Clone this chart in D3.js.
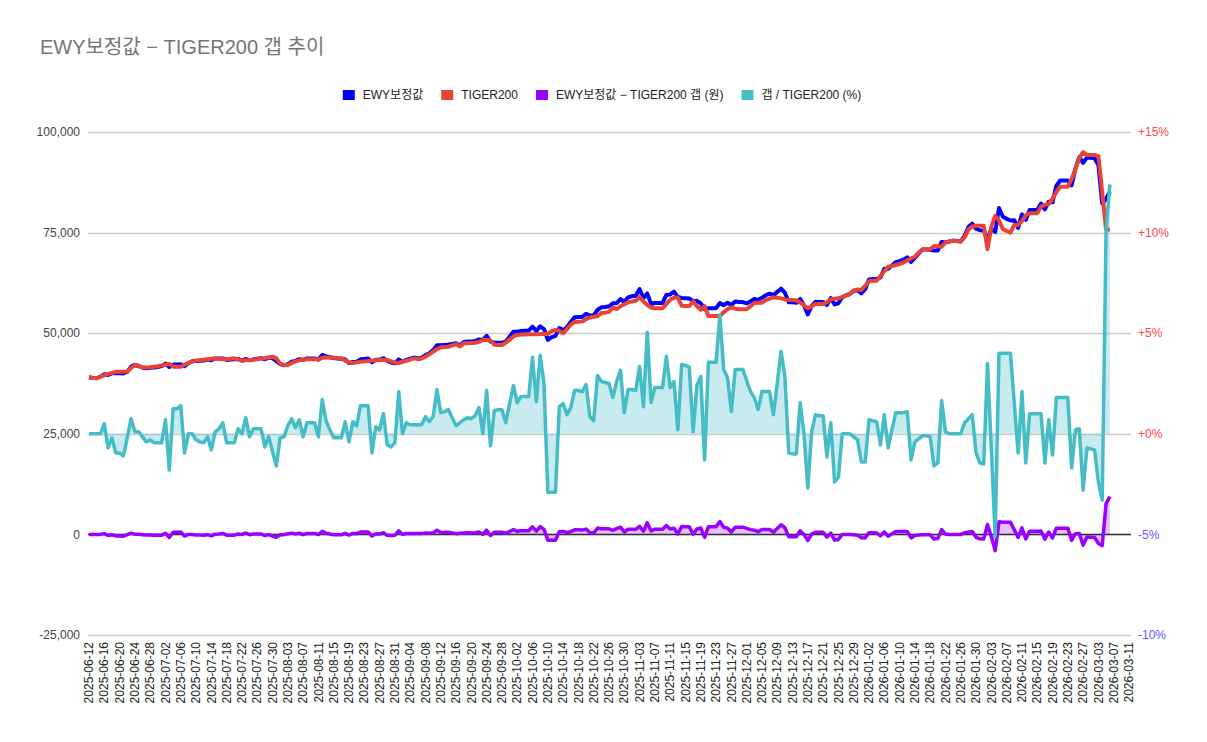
<!DOCTYPE html>
<html>
<head>
<meta charset="utf-8">
<script src="https://cdn.jsdelivr.net/npm/d3@7"></script>
<style>
  body { margin: 0; background: #fff; }
  svg text { font-family: Arial, "Liberation Sans", "Noto Sans CJK KR", sans-serif; }
</style>
</head>
<body>
<svg id="chart" width="1207" height="742"></svg>
<script>
// first day of the daily series, one value per calendar day
const startDate = new Date(2025, 5, 12);
const endDate = new Date(2026, 2, 11);

const seriesNames = ['EWY보정값', 'TIGER200', 'EWY보정값 − TIGER200 갭 (원)', '갭 / TIGER200 (%)'];
const seriesColors = ['#0000ff', '#ea4335', '#9900ff', '#46bdc6'];

// TIGER200 close (원), daily
const tiger200 = [
    39040, 38900, 38800, 39200, 39600, 39900, 40100, 40400, 40440, 40440,
    40450, 41400, 42100, 41800, 41500, 41450, 41550, 41680, 41800, 42000,
    42150, 42350, 41680, 41680, 41680, 42200, 42600, 43000, 43200, 43300,
    43400, 43500, 43650, 43700, 43600, 43500, 43550, 43650, 43750, 43500,
    43170, 43250, 43330, 43400, 43550, 43700, 43800, 44000, 44170, 43750,
    42400, 42100, 42100, 42600, 43000, 43250, 43450, 43500, 43500, 43500,
    43500, 43850, 44000, 43950, 43900, 43800, 43750, 43250, 42750, 42600,
    42750, 42900, 43000, 43100, 43170, 43250, 43330, 43340, 43340, 43000,
    42700, 42600, 42900, 43150, 43450, 43750, 43550, 43700, 44150, 44750,
    45400, 46000, 46500, 46570, 46630, 46950, 47300, 46700, 47480, 47530,
    47580, 47630, 47850, 48300, 48310, 48200, 47150, 47070, 47070, 47600,
    48400, 49200, 49580, 49650, 49700, 49730, 49750, 49760, 49780, 49790,
    49800, 50500, 50800, 50600, 49980, 51000, 52100, 52800, 52860, 52900,
    53500, 53900, 54100, 54200, 55000, 55100, 55300, 56400, 56000, 56700,
    57200, 57650, 57900, 58050, 59000, 57900, 57000, 56400, 56200, 56190,
    56200, 57300, 58300, 58800, 58900, 56800, 56760, 56760, 57900, 56700,
    55800, 56700, 54300, 54300, 54300, 54300, 55200, 56000, 56400, 56100,
    55940, 55940, 55940, 56700, 57500, 57580, 57580, 58200, 58600, 58900,
    58800, 58650, 58400, 58250, 58250, 58150, 57650, 56900, 56190, 56700,
    57260, 57260, 57260, 57700, 58420, 58550, 58700, 58950, 59400, 59740,
    60600, 60850, 60750, 61800, 62900, 63050, 63050, 64200, 65400, 66500,
    66700, 66950, 67200, 67550, 68100, 68600, 69000, 70000, 70850, 70850,
    70850, 71700, 71600, 71500, 72500, 72800, 73000, 72900, 72800, 73800,
    75800, 76500, 76700, 76700, 76700, 70900, 76500, 79200, 78000, 75900,
    75400, 75000, 76890, 76890, 77900, 79300, 79790, 79790, 79790, 81400,
    81950, 82100, 83400, 85100, 86400, 86410, 86410, 88300, 90800, 93500,
    95000, 94300, 94280, 94280, 94000, 85000, 75700, 75800
];

// gap / TIGER200 (%), daily
const gapPct = [
    0, 0, 0, 0, 0.5, -0.7, -0.2, -0.95, -0.95, -1.1,
    -0.2, 0.75, 0.1, 0.1, -0.15, -0.4, -0.3, -0.45, -0.45, -0.45,
    0.7, -1.8, 1.25, 1.25, 1.4, -0.95, 0, 0, -0.3, -0.4,
    -0.45, -0.15, -0.8, 0.1, 0.25, 0.55, -0.45, -0.45, -0.45, 0.25,
    0, 0.8, -0.15, 0.25, 0.25, 0.25, -0.65, -0.15, -0.9, -1.6,
    -0.2, -0.15, 0.4, 0.75, 0.3, 0.7, -0.15, 0.55, 0.55, 0.55,
    -0.15, 1.7, 0.65, 0.2, -0.2, -0.2, -0.2, 0.6, -0.4, 0.6,
    0.4, 1.4, 1.4, 1.4, -0.95, 0.35, 0.2, 1.0, -0.55, -0.65,
    -0.45, 2.1, 0, 0.55, 0.45, 0.45, 0.45, 0.45, 0.85, 0.6,
    0.85, 2.2, 1.05, 1.1, 1.2, 0.8, 0.4, 0.55, 0.7, 0.8,
    0.75, 0.9, 1.3, 0, 2.15, -0.6, 1.15, 1.2, 1.2, 0.55,
    1.5, 2.4, 1.55, 1.85, 1.85, 1.85, 3.8, 1.6, 3.9, 2.5,
    -2.9, -2.9, -2.9, 1.35, 1.5, 0.95, 1.3, 2.15, 2.15, 2.1,
    2.45, 0.85, 0.65, 2.9, 2.6, 2.55, 2.5, 1.8, 2.6, 3.15,
    1.05, 2.2, 2.2, 2.15, 3.35, 1.35, 5.05, 1.55, 2.3, 2.3,
    2.3, 3.85, 2.3, 2.6, 0.2, 3.45, 3.4, 3.3, 0.1, 2.4,
    2.85, -1.3, 3.55, 3.55, 3.55, 5.9, 3.2, 2.8, 1.1, 3.2,
    3.2, 3.2, 2.65, 2.1, 1.8, 1.2, 2.1, 2.1, 2.1, 0.95,
    2.5, 4.1, 2.85, -0.95, -1.0, -1.0, 1.55, 0, -2.7, 0.1,
    0.95, 0.9, 0.9, -1.15, 0.55, -2.4, -2.15, 0, 0, 0,
    -0.15, -0.3, -1.4, -1.4, 0.7, 0.65, 0.6, -0.55, 0.95, -0.7,
    0.2, 1.05, 1.05, 1.05, 1.1, -1.3, -0.4, -0.25, -0.1, -0.1,
    -0.15, -1.6, -1.45, 1.65, 0.1, 0, 0, 0, 0, 0.55,
    0.75, 0.95, -0.95, -1.45, -1.5, 3.5, -0.8, -5.1, 4.0, 4.0,
    4.0, 4.0, 1.5, -0.95, 2.1, -1.45, 1.0, 1.0, 1.0, 1.0,
    -1.45, 0.7, -1.05, 1.8, 1.8, 1.8, 1.8, -1.7, 0.2, 0.25,
    -2.8, -0.7, -0.75, -0.8, -2.4, -3.3, 10.1, 12.4
];

const leftTicks = [-25000, 0, 25000, 50000, 75000, 100000];
const rightTicks = [-10, -5, 0, 5, 10, 15];

// build rows: EWY보정값 = TIGER200 * (1 + gap%), 갭(원) = EWY - TIGER200
const data = tiger200.map(function (t, i) {
    const ewy = t * (1 + gapPct[i] / 100);
    return {
        date: d3.timeDay.offset(startDate, i),
        tiger: t,
        ewy: ewy,
        gap: ewy - t,
        pct: gapPct[i]
    };
});

const svg = d3.select('#chart');
const plotLeft = 88, plotRight = 1131, plotTop = 132, plotBottom = 635;

const x = d3.scaleTime().domain([startDate, endDate]).range([89, 1129]);
const yLeft = d3.scaleLinear().domain([-25000, 100000]).range([plotBottom, plotTop]);
const yRight = d3.scaleLinear().domain([-10, 15]).range([plotBottom, plotTop]);

// title
svg.append('text')
    .attr('x', 40)
    .attr('y', 54)
    .style('font-size', '20px')
    .style('fill', '#757575')
    .text('EWY보정값 − TIGER200 갭 추이');

// gridlines
svg.append('g')
    .selectAll('line')
    .data(leftTicks)
    .join('line')
    .attr('x1', plotLeft)
    .attr('x2', plotRight)
    .attr('y1', d => Math.round(yLeft(d)) + 0.5)
    .attr('y2', d => Math.round(yLeft(d)) + 0.5)
    .attr('stroke', '#cccccc')
    .attr('stroke-width', 1.3);

// left axis labels (plain hyphen for negatives)
svg.append('g')
    .selectAll('text')
    .data(leftTicks)
    .join('text')
    .attr('x', 80)
    .attr('y', d => yLeft(d))
    .attr('dy', '0.35em')
    .style('text-anchor', 'end')
    .style('font-size', '12px')
    .style('fill', '#444')
    .text(d => d3.format(',')(d).replace('−', '-'));

// right axis labels
svg.append('g')
    .selectAll('text')
    .data(rightTicks)
    .join('text')
    .attr('x', 1138)
    .attr('y', d => yRight(d))
    .attr('dy', '0.35em')
    .style('font-size', '12px')
    .style('fill', d => d >= 0 ? '#ff4444' : '#5c5cff')
    .text(d => (d >= 0 ? '+' : '') + d + '%');

// x axis date labels, every 4 days
const xTicks = d3.range(0, 273, 4).map(i => d3.timeDay.offset(startDate, i));
svg.append('g')
    .selectAll('text')
    .data(xTicks)
    .join('text')
    .attr('transform', d => 'translate(' + x(d) + ',642) rotate(-90)')
    .attr('dy', '0.35em')
    .style('text-anchor', 'end')
    .style('font-size', '12px')
    .style('fill', '#222')
    .text(d => d3.timeFormat('%Y-%m-%d')(d));

// area fills to each zero
svg.append('path')
    .datum(data)
    .attr('d', d3.area().x(d => x(d.date)).y0(yLeft(0)).y1(d => yLeft(d.gap)))
    .attr('fill', seriesColors[2])
    .attr('fill-opacity', 0.25);

svg.append('path')
    .datum(data)
    .attr('d', d3.area().x(d => x(d.date)).y0(yRight(0)).y1(d => yRight(d.pct)))
    .attr('fill', seriesColors[3])
    .attr('fill-opacity', 0.3);

// zero baseline of left axis
svg.append('line')
    .attr('x1', plotLeft)
    .attr('x2', plotRight)
    .attr('y1', yLeft(0))
    .attr('y2', yLeft(0))
    .attr('stroke', '#333')
    .attr('stroke-width', 1.5);

// lines
const lines = [
    { key: 'ewy', y: yLeft, color: seriesColors[0], w: 4 },
    { key: 'tiger', y: yLeft, color: seriesColors[1], w: 4 },
    { key: 'gap', y: yLeft, color: seriesColors[2], w: 3.5 },
    { key: 'pct', y: yRight, color: seriesColors[3], w: 3.5 }
];
lines.forEach(function (s) {
    svg.append('path')
        .datum(data)
        .attr('d', d3.line().x(d => x(d.date)).y(d => s.y(d[s.key])))
        .attr('fill', 'none')
        .attr('stroke', s.color)
        .attr('stroke-width', s.w)
        .attr('stroke-linejoin', 'round');
});

// legend, centred above the plot
const legend = svg.append('g');
let lx = 0;
seriesNames.forEach(function (name, i) {
    const item = legend.append('g').attr('transform', 'translate(' + lx + ',0)');
    item.append('rect')
        .attr('x', 0)
        .attr('y', 90)
        .attr('width', 12)
        .attr('height', 10)
        .attr('fill', seriesColors[i]);
    const t = item.append('text')
        .attr('x', 20)
        .attr('y', 95)
        .attr('dy', '0.35em')
        .style('font-size', '12px')
        .style('fill', '#222')
        .text(name);
    lx += 20 + t.node().getComputedTextLength() + 18;
});
const legendWidth = lx - 18;
legend.attr('transform', 'translate(' + (602 - legendWidth / 2) + ',0)');
</script>
</body>
</html>
